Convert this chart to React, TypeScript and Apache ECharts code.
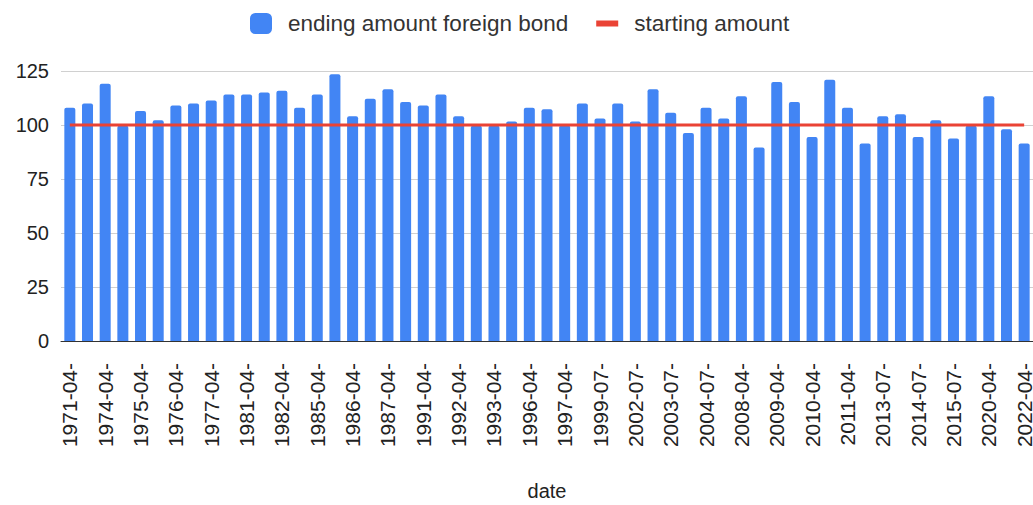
import React, { useEffect, useRef } from "react";
import * as echarts from "echarts";

const dates = [
  "1971-04-30", "1973-04-30", "1974-04-30", "1974-10-31", "1975-04-30", "1975-10-31",
  "1976-04-30", "1976-10-29", "1977-04-29", "1980-04-30", "1981-04-30", "1981-10-30",
  "1982-04-30", "1984-04-30", "1985-04-30", "1985-10-31", "1986-04-30", "1986-10-31",
  "1987-04-30", "1990-04-30", "1991-04-30", "1991-10-31", "1992-04-30", "1992-10-30",
  "1993-04-30", "1994-04-29", "1996-04-30", "1996-10-31", "1997-04-30", "1998-04-30",
  "1999-07-30", "2001-07-31", "2002-07-31", "2002-10-31", "2003-07-31", "2004-01-30",
  "2004-07-30", "2007-04-30", "2008-04-30", "2008-10-31", "2009-04-30", "2009-10-30",
  "2010-04-30", "2010-10-29", "2011-04-29", "2012-07-31", "2013-07-31", "2014-01-31",
  "2014-07-31", "2015-01-30", "2015-07-31", "2019-04-30", "2020-04-30", "2021-04-30",
  "2022-04-29",
];

const endingAmount = [
  108.0, 109.9, 119.1, 99.6, 106.5, 102.2, 109.0, 109.9, 111.4, 114.1, 114.1, 115.0,
  115.8, 108.0, 114.1, 123.5, 104.0, 112.2, 116.5, 110.7, 109.0, 114.1, 104.0, 99.6,
  99.7, 101.6, 108.0, 107.3, 99.8, 109.9, 103.0, 109.9, 101.6, 116.5, 105.7, 96.3,
  108.0, 103.0, 113.3, 89.6, 119.9, 110.7, 94.5, 121.0, 108.0, 91.4, 104.0, 105.0,
  94.5, 102.2, 93.7, 99.6, 113.3, 98.0, 91.4,
];

const startingAmount = dates.map(() => 100);

const yTicks = { min: 0, max: 125, interval: 25 };

export default function App() {
  const ref = useRef<HTMLDivElement>(null);
  useEffect(() => {
    if (!ref.current) return;
    const chart = echarts.init(ref.current, null, { renderer: "svg" });
    chart.setOption({
      animation: false,
      textStyle: { fontFamily: "Liberation Sans, Arial, sans-serif" },
      legend: {
        top: 7,
        left: 245,
        itemWidth: 22,
        itemHeight: 21,
        itemGap: 28,
        textStyle: {
          fontSize: 22.5,
          color: "#333",
          fontFamily: "Liberation Sans, Arial, sans-serif",
          padding: [0, 0, 0, 11],
        },
        data: [
          { name: "ending amount foreign bond", icon: "roundRect" },
          { name: "starting amount", icon: "path://M0 0 H22 V6 H0 Z" },
        ],
      },
      grid: {
        left: 61,
        right: 0,
        top: 71,
        bottom: 164,
        containLabel: false,
        outerBoundsMode: "none",
      },
      xAxis: {
        type: "category",
        data: dates,
        name: "date",
        nameLocation: "middle",
        nameGap: 140,
        nameTextStyle: { fontSize: 20, color: "#222" },
        axisTick: { show: false },
        axisLine: { lineStyle: { color: "#333", width: 1 } },
        axisLabel: {
          rotate: 90,
          interval: 1,
          fontSize: 21,
          color: "#222",
          margin: 22,
          formatter: (v: string) => v.slice(0, 8),
        },
      },
      yAxis: {
        type: "value",
        min: yTicks.min,
        max: yTicks.max,
        interval: yTicks.interval,
        axisLabel: { fontSize: 20, color: "#222", margin: 12 },
        splitLine: { lineStyle: { color: "#d0d0d0", width: 1 } },
        axisLine: { show: false },
        axisTick: { show: false },
      },
      series: [
        {
          name: "ending amount foreign bond",
          type: "bar",
          data: endingAmount,
          barWidth: 11,
          itemStyle: { color: "#4285F4", borderRadius: [2, 2, 0, 0] },
        },
        {
          name: "starting amount",
          type: "line",
          data: startingAmount,
          symbol: "none",
          lineStyle: { color: "#EA4335", width: 3 },
          itemStyle: { color: "#EA4335" },
        },
      ],
    });
    return () => chart.dispose();
  }, []);
  return (
    <div
      ref={ref}
      style={{ position: "fixed", left: 0, top: 0, width: 1033, height: 505, background: "#fff" }}
    />
  );
}
